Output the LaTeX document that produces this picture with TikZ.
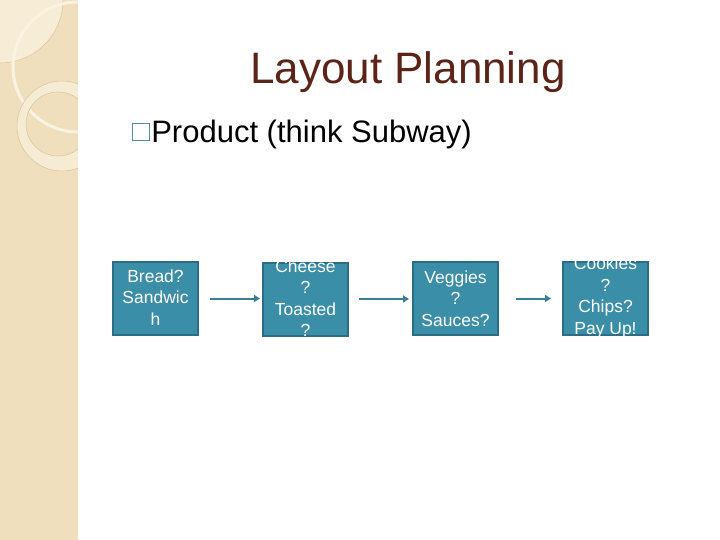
\documentclass[tikz,border=0pt]{standalone}
\usepackage{fontspec}
\setmainfont{Liberation Sans}
\usetikzlibrary{arrows.meta}
\definecolor{strip}{HTML}{EFDFBD}
\definecolor{stripline}{HTML}{D9C49C}
\definecolor{cream}{HTML}{FBF3E2}
\definecolor{titlec}{HTML}{5C2418}
\definecolor{boxfill}{HTML}{3B8EA8}
\definecolor{boxline}{HTML}{2B6D85}
\definecolor{arrowc}{HTML}{3A7F95}
\definecolor{bulletc}{HTML}{4F8EA0}
\tikzset{
  stepbox/.style={draw=boxline, line width=2pt, fill=boxfill, minimum width=85pt, minimum height=73pt, inner sep=0pt},
  boxtext/.style={text=white, font=\fontsize{17.5}{21.5}\selectfont, align=center, inner sep=0pt},
  flow/.style={draw=arrowc, line width=2pt, -{Triangle[length=6pt,width=7pt]}}
}
\begin{document}
\begin{tikzpicture}[x=1pt,y=-1pt]
\useasboundingbox (0,0) rectangle (720,540);
\fill[white] (0,0) rectangle (720,540);
% left decorative strip
\begin{scope}
\clip (0,0) rectangle (78,540);
\fill[strip] (0,0) rectangle (78,540);
\fill[cream!70!strip, draw=stripline, line width=0.5pt] (0,0) circle[radius=63];
\draw[cream, line width=3pt] (78,67) circle[radius=65];
\fill[cream!60!strip, even odd rule, draw=stripline, line width=0.5pt] (62,126) circle[radius=45] (58,124) circle[radius=32];
\end{scope}
% title
\node (title) [text=titlec, font=\fontsize{44}{44}\selectfont] at (408,72) {Layout Planning};
% bullet line
\node (bullet) [draw=bulletc, line width=1.2pt, minimum size=17pt, inner sep=0pt] at (141,132) {};
\node (product) [anchor=west, font=\fontsize{31}{31}\selectfont, inner sep=0pt] at ([xshift=1pt,yshift=-2pt]bullet.east) {Product (think Subway)};
% boxes
\node (b1) [stepbox] at (155.5,298.5) {};
\node (b2) [stepbox] at (305.5,299) {};
\node (b3) [stepbox] at (455.5,298.5) {};
\node (b4) [stepbox] at (605.5,298.5) {};
\begin{scope}
\clip (b1.north west) rectangle (b1.south east);
\node[boxtext] at ([yshift=1pt]b1.center) {Bread?\\Sandwic\\h};
\end{scope}
\begin{scope}
\clip ([yshift=1pt]b2.north west) rectangle ([yshift=-1pt]b2.south east);
\node[boxtext] at ([yshift=1pt]b2.center) {Cheese\\?\\Toasted\\?};
\end{scope}
\begin{scope}
\clip (b3.north west) rectangle (b3.south east);
\node[boxtext] at (b3.center) {Veggies\\?\\Sauces?};
\end{scope}
\begin{scope}
\clip ([yshift=1pt]b4.north west) rectangle ([yshift=-1pt]b4.south east);
\node[boxtext] at ([yshift=1pt]b4.center) {Cookies\\?\\Chips?\\Pay Up!};
\end{scope}
% arrows
\draw[flow, shorten <=11pt, shorten >=2pt] (b1.east) -- (b1.east -| b2.west);
\draw[flow, shorten <=10pt, shorten >=3pt] (b2.east) -- (b2.east -| b3.west);
\draw[flow, shorten <=17pt, shorten >=11pt] (b3.east) -- (b3.east -| b4.west);
\end{tikzpicture}
\end{document}
